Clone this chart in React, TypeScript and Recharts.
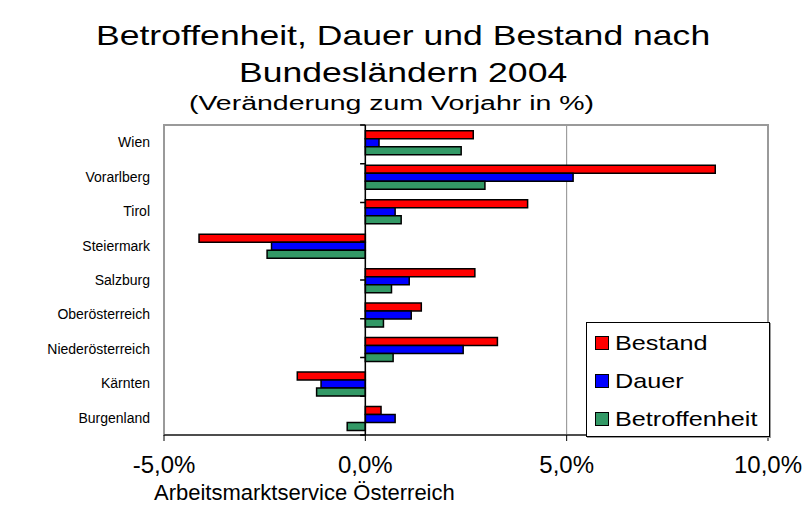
import React from "react";
import {
  BarChart, Bar, XAxis, YAxis, CartesianGrid, ReferenceLine, ReferenceArea,
} from "recharts";

const regions = [
  "Wien", "Vorarlberg", "Tirol", "Steiermark", "Salzburg",
  "Oberösterreich", "Niederösterreich", "Kärnten", "Burgenland",
];
const bestand = [2.68, 8.69, 4.03, -4.13, 2.72, 1.39, 3.28, -1.69, 0.39];
const dauer = [0.34, 5.16, 0.74, -2.33, 1.09, 1.14, 2.43, -1.1, 0.74];
const betroffenheit = [2.38, 2.97, 0.89, -2.44, 0.65, 0.45, 0.69, -1.21, -0.45];
const xTicks = [-5, 0, 5, 10];

const series = [
  { key: "bestand", name: "Bestand", color: "#FF0000" },
  { key: "dauer", name: "Dauer", color: "#0000FF" },
  { key: "betroffenheit", name: "Betroffenheit", color: "#339966" },
];

const data = regions.map((region, i) => ({
  region,
  bestand: bestand[i],
  dauer: dauer[i],
  betroffenheit: betroffenheit[i],
}));

// band boundaries for the little tick marks on the zero axis
const bounds = regions.map((_, i) => i).concat(regions.length);

const font = '"Liberation Sans", Arial, sans-serif';
const fmt = (v: number) => `${v.toFixed(1).replace(".", ",")}%`;

export default function App() {
  return (
    <div style={{ position: "absolute", left: 0, top: 0, width: 807, height: 507, background: "#fff", fontFamily: font, color: "#000" }}>
      <div style={{ position: "absolute", left: 0, width: 807, top: 17, textAlign: "center", fontSize: 28, lineHeight: "37px", transform: "scaleX(1.27)", transformOrigin: "405px 0" }}>
        Betroffenheit, Dauer und Bestand nach
        <br />
        Bundesländern 2004
      </div>
      <div style={{ position: "absolute", left: -12, width: 807, top: 92, textAlign: "center", fontSize: 19.5, transform: "scaleX(1.46)", transformOrigin: "403.5px 0" }}>
        (Veränderung zum Vorjahr in %)
      </div>

      <BarChart
        width={807}
        height={507}
        layout="vertical"
        data={data}
        margin={{ top: 125, right: 39, bottom: 0, left: 0 }}
        barCategoryGap="17%"
        barGap={0}
        style={{ position: "absolute", left: 0, top: 0 }}
      >
        <CartesianGrid horizontal={false} stroke="#8c8c8c" />
        <ReferenceArea x1={-5} x2={10} fill="none" stroke="#9a9a9a" strokeWidth={2} ifOverflow="visible" />
        <XAxis
          type="number"
          domain={[-5, 10]}
          ticks={xTicks}
          tickFormatter={fmt}
          height={72}
          tickSize={6}
          tickMargin={15}
          stroke="#000"
          tick={{ fontSize: 24, fill: "#000", fontFamily: font }}
        />
        <YAxis
          type="category"
          dataKey="region"
          width={164}
          axisLine={false}
          tickLine={false}
          tickSize={0}
          tickMargin={14}
          tick={{ fontSize: 14, fill: "#000", fontFamily: font }}
        />
        <YAxis yAxisId="bounds" type="number" domain={[0, regions.length]} hide />
        {series.map((s) => (
          <Bar key={s.key} dataKey={s.key} name={s.name} fill={s.color} stroke="#000" strokeWidth={1.5} isAnimationActive={false} />
        ))}
        <ReferenceLine x={0} stroke="#000" strokeWidth={1.5} />
        {bounds.map((b) => (
          <ReferenceLine
            key={b}
            yAxisId="bounds"
            segment={[{ x: -0.13, y: b }, { x: 0, y: b }]}
            stroke="#000"
            strokeWidth={1.5}
          />
        ))}
      </BarChart>

      <div style={{ position: "absolute", left: 586, top: 322, width: 182, height: 113, border: "1px solid #000", background: "#fff", boxShadow: "1px 1px 0 #9a9a9a" }}>
        {series.map((s, i) => (
          <div key={s.key} style={{ position: "absolute", left: 8, top: 8 + i * 38, height: 24, display: "flex", alignItems: "center" }}>
            <span style={{ display: "inline-block", width: 12, height: 12, background: s.color, border: "1px solid #000", marginRight: 6 }} />
            <span style={{ fontSize: 21, display: "inline-block", transform: "scaleX(1.2)", transformOrigin: "0 0", whiteSpace: "nowrap" }}>{s.name}</span>
          </div>
        ))}
      </div>

      <div style={{ position: "absolute", left: 154, top: 480, fontSize: 22, whiteSpace: "nowrap" }}>
        Arbeitsmarktservice Österreich
      </div>
    </div>
  );
}
